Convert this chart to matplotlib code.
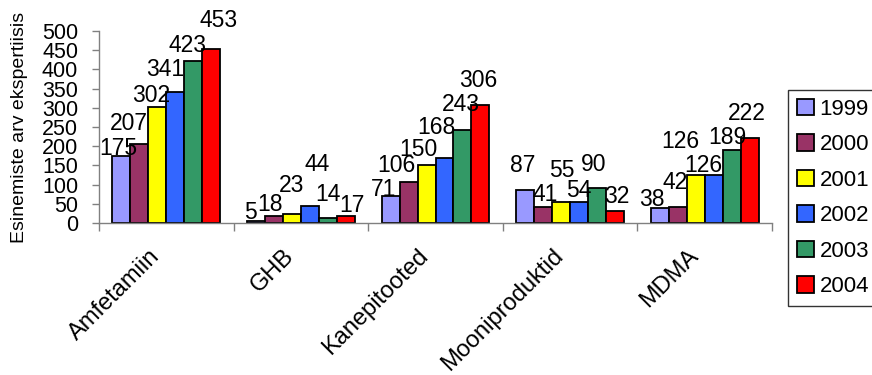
import numpy as np
import matplotlib
matplotlib.use('Agg')
import matplotlib.pyplot as plt
from matplotlib.transforms import ScaledTranslation

plt.rcParams['font.family'] = ['Liberation Sans', 'DejaVu Sans']

categories = ['Amfetamiin', 'GHB', 'Kanepitooted', 'Mooniproduktid', 'MDMA']
years = ['1999', '2000', '2001', '2002', '2003', '2004']

v1999 = [175, 5, 71, 87, 38]
v2000 = [207, 18, 106, 41, 42]
v2001 = [302, 23, 150, 55, 126]
v2002 = [341, 44, 168, 54, 126]
v2003 = [423, 14, 243, 90, 189]
v2004 = [453, 17, 306, 32, 222]
values = [v1999, v2000, v2001, v2002, v2003, v2004]

colors = ['#9999FF', '#993366', '#FFFF00', '#3366FF', '#339966', '#FF0000']

# label nudges (pixels) so the value labels sit where the old Excel chart put them
label_dx = [[-3, -6, -7, -3, -8],
            [-11, -4, -12, 2, -3],
            [-6, 0, -8, 1, -15],
            [-10, 7, -8, 0, -10],
            [-6, 0, -2, -3, -4],
            [7, 6, -2, 2, -3]]
label_dy = [[0, 1, -1, 17, 1],
            [13, 4, 9, 5, 17],
            [4, 21, 8, 24, 26],
            [15, 34, 23, 4, 1.5],
            [8, 16, 18, 16, 5],
            [21, 3, 17, 7, 17]]

W, H = 872, 375
fig = plt.figure(figsize=(W / 100, H / 100), dpi=100)
ax_w = 772 - 99
ax = fig.add_axes([99 / W, 1 - 223 / H, ax_w / W, (223 - 31) / H])

x = np.arange(len(categories))
w = 0.8 / len(years)
fs = 16.5

handles = []
for i, yr in enumerate(years):
    pos = x + (i - 2.5) * w
    b = ax.bar(pos, values[i], w, color=colors[i], edgecolor='black',
               linewidth=1.3, label=yr)
    handles.append(b)
    for j, v in enumerate(values[i]):
        ax.annotate(str(v), (pos[j], v), xytext=(label_dx[i][j], label_dy[i][j] + 1),
                    textcoords='offset pixels', ha='center', va='baseline',
                    fontsize=fs)

ax.set_xlim(-0.5, len(categories) - 0.5)
ax.set_ylim(0, 500)
ax.set_yticks(np.arange(0, 501, 50))
ax.tick_params(axis='y', length=5, width=1, color='#808080', pad=10, labelsize=15.5)

ax.set_xticks(x)
ax.set_xticklabels(categories, rotation=45, ha='right', rotation_mode='anchor', fontsize=17)
ax.set_xticks(np.arange(-0.5, len(categories), 1), minor=True)
ax.tick_params(axis='x', which='major', length=0, pad=16)
ax.tick_params(axis='x', which='minor', length=6, width=1, color='#808080')
shift = ScaledTranslation(-18 / 100, 0, fig.dpi_scale_trans)
for lab in ax.get_xticklabels():
    lab.set_transform(lab.get_transform() + shift)

for s in ['top', 'right']:
    ax.spines[s].set_visible(False)
for s in ['left', 'bottom']:
    ax.spines[s].set_color('#808080')
    ax.spines[s].set_linewidth(1)

ax.set_ylabel('Esinemiste arv ekspertiisis', fontsize=14)
ax.yaxis.set_label_coords((28 - 99) / ax_w, 0.5)

leg = ax.legend(handles=handles, loc='upper left',
                bbox_to_anchor=(788 / W, 1 - 90 / H), bbox_transform=fig.transFigure,
                fontsize=16, frameon=True, fancybox=False, borderaxespad=0,
                handlelength=0.77, handleheight=0.77, handletextpad=0.25,
                labelspacing=0.65, borderpad=0.4)
leg.get_frame().set_edgecolor('black')
leg.get_frame().set_linewidth(1)

fig.savefig('out.png', dpi=100)
